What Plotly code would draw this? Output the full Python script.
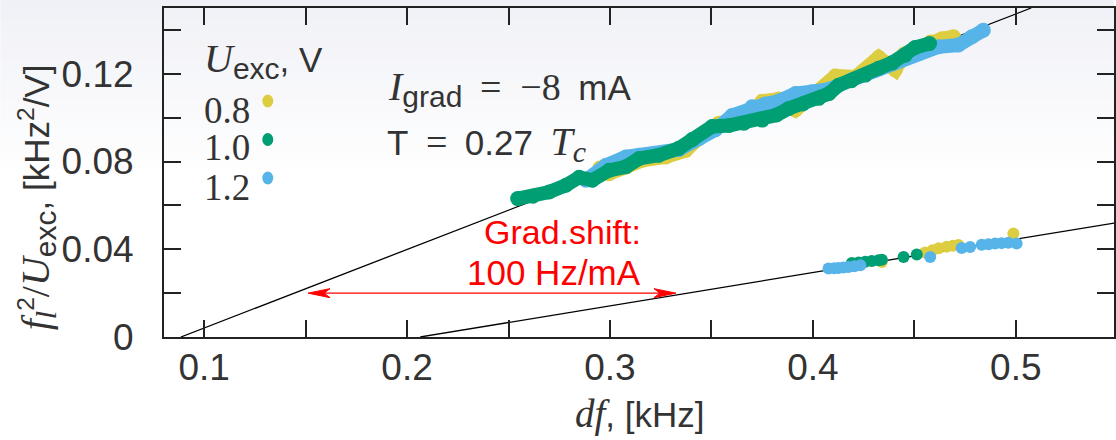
import plotly.graph_objects as go

# ---------------- data ----------------
# upper band (Igrad = -8 mA, first branch)
up_x_08 = [0.2950, 0.2996, 0.3080, 0.3160, 0.3275, 0.3373, 0.3439, 0.3537, 0.3610, 0.3668, 0.3750, 0.3832,
           0.3914, 0.3980, 0.4045, 0.4111, 0.4209, 0.4290, 0.4324, 0.4406, 0.4450, 0.4520, 0.4580, 0.4636, 0.4693]
up_y_08 = [0.0770, 0.0745, 0.0775, 0.0806, 0.0821, 0.0850, 0.0908, 0.0975, 0.0985, 0.0996, 0.1075, 0.1085,
           0.1035, 0.1090, 0.1133, 0.1190, 0.1185, 0.1240, 0.1275, 0.1217, 0.1290, 0.1320, 0.1345, 0.1360, 0.1369]

up_x_10 = [0.2545, 0.2620, 0.2700, 0.2783, 0.2848, 0.2913, 0.2996, 0.3078, 0.3144, 0.3241, 0.3339, 0.3405,
           0.3504, 0.3586, 0.3660, 0.3750, 0.3820, 0.3881, 0.3950, 0.4029, 0.4080, 0.4126, 0.4190, 0.4258,
           0.4324, 0.4390, 0.4455, 0.4504, 0.4575]
up_y_10 = [0.0631, 0.0642, 0.0661, 0.0692, 0.0728, 0.0715, 0.0760, 0.0776, 0.0814, 0.0829, 0.0860, 0.0900,
           0.0960, 0.0964, 0.0975, 0.0989, 0.1012, 0.1042, 0.1062, 0.1088, 0.1110, 0.1148, 0.1168, 0.1194,
           0.1225, 0.1250, 0.1285, 0.1320, 0.1338]

up_x_12 = [0.2881, 0.2980, 0.3078, 0.3144, 0.3240, 0.3340, 0.3440, 0.3520, 0.3602, 0.3700, 0.3766, 0.3830,
           0.3914, 0.3994, 0.4080, 0.4190, 0.4305, 0.4388, 0.4460, 0.4521, 0.4620, 0.4717, 0.4783, 0.4840]
up_y_12 = [0.0715, 0.0783, 0.0821, 0.0829, 0.0835, 0.0855, 0.0905, 0.0945, 0.1010, 0.1050, 0.1062, 0.1075,
           0.1110, 0.1118, 0.1130, 0.1172, 0.1215, 0.1245, 0.1272, 0.1293, 0.1323, 0.1331, 0.1369, 0.1399]

# lower band (shifted branch)
lo_x_08 = [0.4340, 0.4553, 0.4590, 0.4620, 0.4660, 0.4690, 0.4717, 0.4988]
lo_y_08 = [0.0342, 0.0385, 0.0395, 0.0405, 0.0412, 0.0416, 0.0420, 0.0472]

lo_x_10 = [0.4192, 0.4225, 0.4258, 0.4290, 0.4324, 0.4340, 0.4447, 0.4512]
lo_y_10 = [0.0337, 0.0340, 0.0343, 0.0346, 0.0350, 0.0352, 0.0365, 0.0376]

lo_x_12 = [0.4077, 0.4105, 0.4126, 0.4150, 0.4175, 0.4205, 0.4234, 0.4578, 0.4733, 0.4775,
           0.4832, 0.4865, 0.4898, 0.4930, 0.4963, 0.5004]
lo_y_12 = [0.0312, 0.0313, 0.0315, 0.0317, 0.0319, 0.0323, 0.0327, 0.0365, 0.0406, 0.0410,
           0.0421, 0.0423, 0.0426, 0.0428, 0.0430, 0.0426]

# fit lines
fit_hi_x = [0.0885, 0.5076]
fit_hi_y = [0.0, 0.15]
fit_lo_x = [0.2065, 0.5600]
fit_lo_y = [0.0, 0.0537]

# gradient-shift arrow
arrow_x = [0.1512, 0.3325]
arrow_y = 0.02

series_labels = ["0.8", "1.0", "1.2"]
x_major = [0.1, 0.2, 0.3, 0.4, 0.5]
x_minor = [0.15, 0.25, 0.35, 0.45]
x_ticktext = ["0.1", "0.2", "0.3", "0.4", "0.5"]
y_major = [0, 0.04, 0.08, 0.12]
y_minor = [0.02, 0.06, 0.10, 0.14]
y_ticktext = ["0", "0.04", "0.08", "0.12"]

# ---------------- style ----------------
C_Y, C_G, C_B = "#DDCD40", "#009E73", "#56B4E9"
colors = {"0.8": C_Y, "1.0": C_G, "1.2": C_B}
SANS = "Liberation Sans"
SERIF = "Liberation Serif"
AX = "#222222"
TXT = "#333333"

W, H = 1116, 440
L, R, T, B = 164, 0, 8, 103
PW, PH = W - L - R, H - T - B
XR = [0.0802, 0.5484]
YR = [0, 0.15]
DXPX = (XR[1] - XR[0]) / PW
DYPX = (YR[1] - YR[0]) / PH


def px(x):
    return (x - L) / PW


def py(y):
    return (H - B - y) / PH


def serif(s, size=38):
    return f'<span style="font-family:{SERIF};font-size:{size}px">{s}</span>'


def sub(s, size=30):
    return f'<sub><span style="font-size:{size}px">{s}</span></sub>'


fig = go.Figure()

# fit lines (below points)
for xs, ys in [(fit_hi_x, fit_hi_y), (fit_lo_x, fit_lo_y)]:
    fig.add_trace(go.Scatter(x=xs, y=ys, mode="lines", showlegend=False,
                             line=dict(color="black", width=1.3), hoverinfo="skip"))

MS, LW = 15, 14
# upper band: yellow, blue, green (green on top)
for xs, ys, lab in [(up_x_08, up_y_08, "0.8"), (up_x_12, up_y_12, "1.2"), (up_x_10, up_y_10, "1.0")]:
    fig.add_trace(go.Scatter(x=xs, y=ys, mode="lines+markers", name=lab, showlegend=False,
                             line=dict(color=colors[lab], width=LW),
                             marker=dict(color=colors[lab], size=MS, line=dict(width=0)),
                             hoverinfo="skip"))
# lower band: yellow, green, blue
for xs, ys, lab in [(lo_x_08, lo_y_08, "0.8"), (lo_x_10, lo_y_10, "1.0"), (lo_x_12, lo_y_12, "1.2")]:
    fig.add_trace(go.Scatter(x=xs, y=ys, mode="markers", name=lab, showlegend=False,
                             marker=dict(color=colors[lab], size=12, line=dict(width=0)),
                             hoverinfo="skip"))

# background gradient (slide style)
top = (240, 241, 246)
shapes = []
n = 18
for i in range(n):
    t = (i + 0.5) / n
    c = tuple(int(round(top[k] + (255 - top[k]) * t)) for k in range(3))
    shapes.append(dict(type="rect", xref="paper", yref="paper", layer="below",
                       x0=px(0), x1=px(W), y0=py((i + 1) * 10), y1=py(i * 10),
                       fillcolor=f"rgb{c}", line=dict(width=0)))

# legend symbols
leg_y = [101, 139.5, 178]
for lab, yy in zip(series_labels, leg_y):
    shapes.append(dict(type="circle", xref="paper", yref="paper", layer="above",
                       x0=px(262.5), x1=px(273.5), y0=py(yy + 6.5), y1=py(yy - 6.5),
                       fillcolor=colors[lab], line=dict(width=0)))

# double-headed red arrow (line + two notched heads)
shapes.append(dict(type="line", xref="x", yref="y", x0=arrow_x[0] + 8 * DXPX, x1=arrow_x[1] - 8 * DXPX,
                   y0=arrow_y, y1=arrow_y, line=dict(color="red", width=1.4)))
HL, HW, HN = 22, 4.5, 16
for tip, sgn in [(arrow_x[1], 1), (arrow_x[0], -1)]:
    bx = tip - sgn * HL * DXPX
    nx = tip - sgn * HN * DXPX
    path = (f"M {tip} {arrow_y} L {bx} {arrow_y + HW * DYPX} L {nx} {arrow_y} "
            f"L {bx} {arrow_y - HW * DYPX} Z")
    shapes.append(dict(type="path", xref="x", yref="y", path=path,
                       fillcolor="red", line=dict(color="red", width=1)))

ann = []
FS = 35
# legend text
ann.append(dict(text=serif("<i>U</i>", 40) + sub("exc") + ", V", x=px(202), y=py(60),
                xanchor="left", yanchor="middle"))
for lab, yy in zip(series_labels, [110, 148, 187]):
    ann.append(dict(text=serif(lab, 37), x=px(202), y=py(yy), xanchor="left", yanchor="middle"))

ann.append(dict(text=serif("<i>I</i>", 40) + sub("grad") + "\u2002" + serif("=\u2002\u22128") + "\u2002mA",
                x=px(386), y=py(88), xanchor="left", yanchor="middle"))
ann.append(dict(text="T\u2002" + serif("=") + "\u20020.27\u2002" + serif("<i>T</i>", 40)
                + sub(serif("<i>c</i>", 30)),
                x=px(385), y=py(143), xanchor="left", yanchor="middle"))

ann.append(dict(text="Grad.shift:", x=px(643), y=py(252), xanchor="right", yanchor="bottom",
                font=dict(color="red", size=34, family=SANS), borderpad=0))
ann.append(dict(text="100 Hz/mA", x=px(643), y=py(252), xanchor="right", yanchor="top",
                font=dict(color="red", size=35, family=SANS), borderpad=0))

# axis titles
ann.append(dict(text=serif("<i>df</i>", 39) + ", [kHz]", x=px(641), y=py(414),
                xanchor="center", yanchor="middle"))
ann.append(dict(text=serif("<i>f</i>", 40) + "<sub>" + serif("<i>l</i>", 30) + "</sub><sup>2</sup>"
                + serif("/<i>U</i>", 40) + sub("exc") + ", [kHz<sup>2</sup>/V]",
                x=px(37), y=py(197), xanchor="center", yanchor="middle", textangle=-90))

for a in ann:
    a.setdefault("xref", "paper")
    a.setdefault("yref", "paper")
    a.setdefault("showarrow", False)
    a.setdefault("font", dict(size=FS, family=SANS, color=TXT))

axis_common = dict(showgrid=False, zeroline=False, showline=True, linecolor=AX, linewidth=2,
                   mirror="ticks", ticks="inside", ticklen=17, tickwidth=1.5, tickcolor=AX,
                   tickfont=dict(size=37, family=SANS, color=TXT))

fig.update_layout(
    width=W, height=H, autosize=False,
    margin=dict(l=L, r=R, t=T, b=B, pad=0),
    paper_bgcolor="white", plot_bgcolor="rgba(0,0,0,0)",
    xaxis=dict(range=XR, tickmode="array", tickvals=x_major, ticktext=x_ticktext,
               ticklabelstandoff=-3,
               minor=dict(tickvals=x_minor, ticks="inside", ticklen=17, tickwidth=1.5, tickcolor=AX),
               **axis_common),
    yaxis=dict(range=YR, tickmode="array", tickvals=y_major, ticktext=y_ticktext,
               ticklabelstandoff=21,
               minor=dict(tickvals=y_minor, ticks="inside", ticklen=17, tickwidth=1.5, tickcolor=AX),
               **axis_common),
    shapes=shapes, annotations=ann, showlegend=False,
)

fig.write_html("out.html")
